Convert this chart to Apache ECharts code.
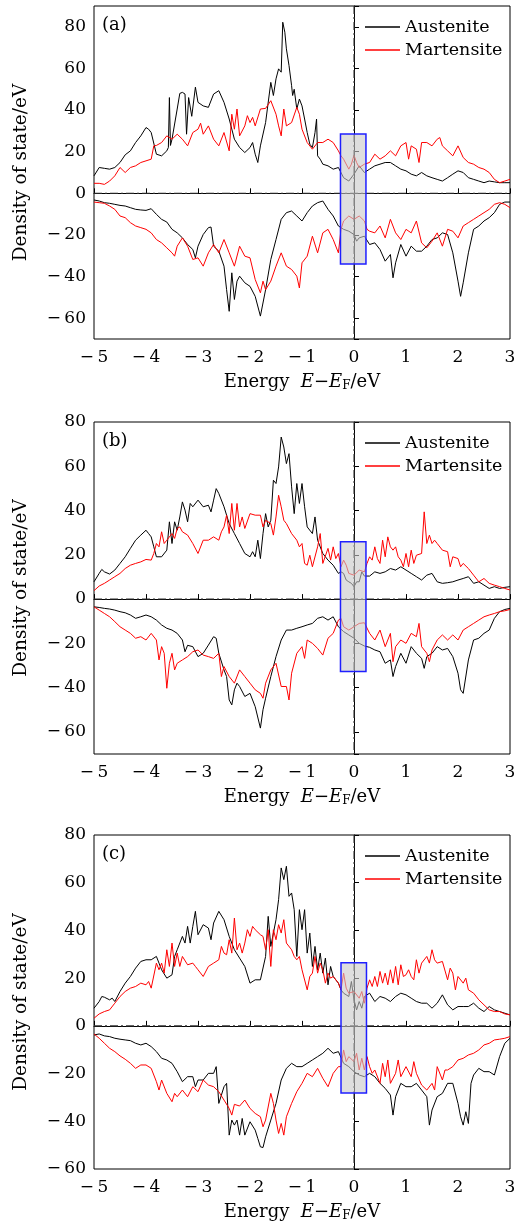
<!DOCTYPE html>
<html><head><meta charset="utf-8">
<script src="https://cdn.jsdelivr.net/npm/echarts@6/dist/echarts.min.js"></script>
<style>html,body{margin:0;padding:0;background:#fff}#c{width:522px;height:1223px}</style>
</head><body><div id="c"></div>
<script>
// ---- Data (Energy E-E_F in eV, DOS in states/eV) ----
const panelLabels = ['(a)', '(b)', '(c)'];
const seriesNames = ['Austenite', 'Martensite'];
const yMins = [-70, -70, -60];
const yMaxs = [90, 80, 80];
// highlighted window around E_F: [E0, top, E1, bottom]
const fermiBoxA = [-0.26, 28.5, 0.23, -34];
const fermiBoxB = [-0.26, 25.9, 0.23, -32.7];
const fermiBoxC = [-0.25, 26.5, 0.24, -28.1];
// reference lines: E = E_F and DOS = 0
const refLineE = 0;
const refLineDOS = 0;

// Panel (a)
const ausUpA = [[-5,8.4],[-4.9,12.4],[-4.8,12],[-4.7,11.6],[-4.6,12.4],[-4.5,14.8],[-4.4,18.5],[-4.3,20.4],[-4.2,24.4],[-4.1,27.6],[-4,31.6],[-3.95,30.8],[-3.9,29.2],[-3.8,18.8],[-3.7,18],[-3.6,20.4],[-3.57,22],[-3.55,46],[-3.53,23],[-3.5,26],[-3.4,40.5],[-3.35,48],[-3.3,48.5],[-3.25,47.7],[-3.22,28.4],[-3.18,46],[-3.12,37],[-3.05,51],[-3,43.7],[-2.9,42],[-2.8,41.3],[-2.7,47.7],[-2.6,49.3],[-2.5,43.7],[-2.4,35.7],[-2.3,26],[-2.2,22],[-2.1,19.6],[-2,22],[-1.95,24.4],[-1.9,18.8],[-1.85,14.8],[-1.8,22.8],[-1.7,34],[-1.6,53.3],[-1.55,47],[-1.5,55],[-1.45,59.8],[-1.4,58.2],[-1.37,82.2],[-1.33,77.4],[-1.3,69.4],[-1.25,61.4],[-1.2,51.7],[-1.18,47],[-1.15,50],[-1.1,40.5],[-1.05,45.3],[-1,42],[-0.95,35.7],[-0.9,29.2],[-0.85,23.6],[-0.8,22],[-0.75,29.2],[-0.72,35.7],[-0.7,18],[-0.65,16.4],[-0.6,14],[-0.5,13.2],[-0.4,11.6],[-0.3,12.4],[-0.2,7.5],[-0.1,5.9],[0,9.2],[0.1,13.2],[0.2,10],[0.3,11.6],[0.4,13.2],[0.5,14],[0.6,14.8],[0.7,14.8],[0.8,13.2],[0.9,11.6],[1,10.8],[1.1,9.2],[1.2,8.4],[1.3,10],[1.4,8.4],[1.5,7.5],[1.6,6.7],[1.7,5.9],[1.8,7.5],[1.9,9.2],[2,10.8],[2.1,10],[2.2,7.5],[2.3,6.7],[2.4,5.9],[2.5,5.1],[2.6,5.9],[2.7,5.5],[2.8,5.1],[2.9,5.1],[3,5.1]];
const marUpA = [[-5,4.8],[-4.9,4.8],[-4.8,4.3],[-4.7,5.9],[-4.6,8.4],[-4.5,12.4],[-4.4,10],[-4.3,12.4],[-4.2,13.2],[-4.1,14.8],[-4,15.6],[-3.9,16.4],[-3.85,22.8],[-3.8,23],[-3.7,24.4],[-3.6,27.6],[-3.5,26],[-3.4,28.4],[-3.3,26],[-3.2,22.8],[-3.1,29.2],[-3,30.8],[-2.95,33.7],[-2.9,28.4],[-2.8,32.4],[-2.7,26],[-2.6,22.8],[-2.5,29.2],[-2.4,20.4],[-2.35,38],[-2.3,30.8],[-2.25,40.5],[-2.2,27.6],[-2.1,32.4],[-2.05,37.3],[-2,34],[-1.95,36.5],[-1.9,32.4],[-1.8,40.5],[-1.7,40.8],[-1.6,44.5],[-1.5,38],[-1.45,32.4],[-1.4,27.6],[-1.35,40.5],[-1.3,32.4],[-1.2,34],[-1.1,41.3],[-1.05,38],[-1,30.8],[-0.9,24.4],[-0.8,21.2],[-0.7,24.4],[-0.6,24.4],[-0.5,26],[-0.4,24.4],[-0.3,20.4],[-0.25,18],[-0.2,16.4],[-0.1,11.6],[-0.05,14],[0,18.3],[0.05,14.8],[0.1,12.4],[0.2,14],[0.3,14.8],[0.4,18.8],[0.5,16.4],[0.6,18],[0.7,20.4],[0.8,18],[0.9,22.8],[1,24.4],[1.05,16.4],[1.1,22.8],[1.2,21.2],[1.25,14.8],[1.3,24.4],[1.4,24.4],[1.5,22.8],[1.6,26],[1.65,26.8],[1.7,22.8],[1.8,20.4],[1.9,18],[2,22.8],[2.1,17.2],[2.2,14.8],[2.3,14],[2.4,12.4],[2.5,11.6],[2.6,10],[2.7,6.7],[2.8,5.1],[2.9,5.9],[3,6.7]];
const ausDnA = [[-5,-3.2],[-4.9,-3.7],[-4.8,-4.5],[-4.7,-4.8],[-4.6,-5.3],[-4.5,-5.8],[-4.4,-6.1],[-4.3,-6.9],[-4.2,-7.7],[-4.1,-8],[-4,-8.2],[-3.9,-7.4],[-3.8,-10.1],[-3.7,-12.5],[-3.6,-13.8],[-3.5,-17.3],[-3.4,-19],[-3.3,-21.4],[-3.2,-24.6],[-3.1,-27],[-3.05,-31],[-3,-25.4],[-2.9,-19.8],[-2.8,-16.5],[-2.75,-16.2],[-2.7,-25.4],[-2.6,-27.8],[-2.5,-35],[-2.45,-46.3],[-2.4,-56.7],[-2.35,-38.2],[-2.3,-51],[-2.25,-42.2],[-2.2,-39.8],[-2.1,-43],[-2,-44.7],[-1.9,-49.5],[-1.8,-59],[-1.7,-46.3],[-1.6,-31.8],[-1.5,-22.2],[-1.4,-12.5],[-1.3,-9.3],[-1.2,-8.5],[-1.1,-10.9],[-1,-13.3],[-0.9,-9.3],[-0.8,-6.1],[-0.7,-4.5],[-0.6,-3.7],[-0.5,-7.7],[-0.4,-10.9],[-0.3,-15.7],[-0.2,-17.3],[-0.1,-18.2],[0,-19.8],[0.05,-23],[0.1,-21.4],[0.2,-20.6],[0.3,-24.6],[0.4,-23.8],[0.5,-27],[0.6,-32.6],[0.7,-29.4],[0.75,-40.6],[0.8,-33.4],[0.9,-24.6],[1,-30.2],[1.1,-25.4],[1.2,-27.8],[1.3,-27.8],[1.4,-25.4],[1.5,-22.2],[1.6,-21.4],[1.7,-19],[1.8,-19.8],[1.9,-28.6],[2,-42.2],[2.05,-49.5],[2.1,-43],[2.2,-28.6],[2.3,-17.3],[2.4,-15.7],[2.5,-13.3],[2.6,-11.7],[2.7,-9.3],[2.8,-5.3],[2.9,-4.2],[3,-4.2]];
const marDnA = [[-5,-4.2],[-4.9,-4.5],[-4.8,-4.8],[-4.7,-6.1],[-4.6,-7.7],[-4.5,-10.9],[-4.4,-11.7],[-4.3,-14.1],[-4.2,-15.7],[-4.1,-16.5],[-4,-17.3],[-3.9,-19],[-3.8,-22.2],[-3.7,-23.8],[-3.6,-26.2],[-3.5,-28.6],[-3.45,-30.2],[-3.4,-25.4],[-3.3,-21.4],[-3.2,-25.4],[-3.1,-31.8],[-3,-31],[-2.9,-35],[-2.8,-28.6],[-2.7,-24.6],[-2.6,-28.6],[-2.5,-22.2],[-2.4,-28.6],[-2.3,-35],[-2.2,-25.4],[-2.1,-30.2],[-2,-31],[-1.9,-41.4],[-1.8,-47.8],[-1.75,-42.2],[-1.7,-46.3],[-1.6,-42.2],[-1.5,-35],[-1.4,-28.6],[-1.3,-35],[-1.2,-36.6],[-1.1,-39.8],[-1.05,-45.5],[-1,-33.4],[-0.9,-30.2],[-0.8,-20.6],[-0.7,-28.6],[-0.6,-19],[-0.5,-17.3],[-0.4,-22.2],[-0.3,-28.6],[-0.25,-17.3],[-0.2,-13.3],[-0.1,-10.9],[0,-12.5],[0.1,-10.9],[0.2,-13.3],[0.25,-17.3],[0.3,-18.2],[0.4,-19],[0.5,-15.7],[0.6,-21.4],[0.7,-12.5],[0.8,-19],[0.9,-22.2],[1,-17.3],[1.1,-19],[1.2,-13.3],[1.3,-23.8],[1.4,-26.2],[1.5,-23],[1.6,-19],[1.7,-25.4],[1.8,-17.3],[1.9,-18.2],[2,-21.4],[2.1,-15.7],[2.2,-14.1],[2.3,-12.5],[2.4,-10.9],[2.5,-9.3],[2.6,-7.7],[2.7,-5.3],[2.8,-4.5],[2.9,-5.3],[3,-6.9]];

// Panel (b)
const ausUpB = [[-5,7.8],[-4.9,11.6],[-4.85,13.4],[-4.8,12.3],[-4.7,11.3],[-4.6,13.1],[-4.5,16.1],[-4.4,19.1],[-4.3,22.9],[-4.2,26.6],[-4.1,28.9],[-4,31.1],[-3.95,29.6],[-3.9,28.1],[-3.85,23.6],[-3.8,19.1],[-3.7,19.1],[-3.6,22.1],[-3.55,34.9],[-3.5,25.1],[-3.45,34.9],[-3.4,31.1],[-3.35,37.1],[-3.3,43.9],[-3.25,40.2],[-3.2,34.9],[-3.15,43.2],[-3.1,41.7],[-3,44.7],[-2.9,41.7],[-2.8,42.4],[-2.75,39.4],[-2.7,44.7],[-2.65,49.9],[-2.6,47.7],[-2.5,41.7],[-2.4,34.1],[-2.3,29.6],[-2.2,25.1],[-2.1,20.6],[-2,19.1],[-1.95,21.4],[-1.9,19.1],[-1.85,26.6],[-1.8,18.3],[-1.75,29.6],[-1.7,38.6],[-1.65,32.6],[-1.6,35.6],[-1.55,53.7],[-1.5,52.2],[-1.45,59.7],[-1.4,73.2],[-1.35,68.7],[-1.3,61.2],[-1.25,65.7],[-1.2,50.7],[-1.15,38.6],[-1.1,52.2],[-1.05,43.2],[-1,52.2],[-0.95,41.7],[-0.9,32.6],[-0.8,29.6],[-0.75,37.1],[-0.7,26.6],[-0.6,20.6],[-0.5,17.6],[-0.4,15.3],[-0.3,11.6],[-0.25,12.3],[-0.2,11.6],[-0.15,8.6],[-0.1,7.8],[-0.05,7.1],[0,5.6],[0.05,7.8],[0.1,7.8],[0.15,12.3],[0.2,10.4],[0.3,10.4],[0.4,12.3],[0.5,11.6],[0.6,12.3],[0.7,13.8],[0.8,13.1],[0.9,14.6],[1,13.1],[1.1,11.6],[1.2,10.1],[1.3,8.6],[1.4,10.8],[1.5,11.6],[1.6,7.8],[1.7,7.1],[1.8,7.4],[1.9,7.8],[2,8.6],[2.1,9.3],[2.2,10.1],[2.3,7.1],[2.4,7.8],[2.5,6.3],[2.6,4.8],[2.7,5.6],[2.8,4.8],[2.9,5.3],[3,5.6]];
const marUpB = [[-5,3.8],[-4.9,5.9],[-4.8,7.1],[-4.7,8.6],[-4.6,10.1],[-4.5,11.6],[-4.4,13.8],[-4.3,15.3],[-4.2,16.1],[-4.1,16.8],[-4,17.9],[-3.9,17.6],[-3.85,20.6],[-3.8,25.1],[-3.75,23.6],[-3.7,30.4],[-3.65,25.1],[-3.6,26.6],[-3.5,29.6],[-3.45,27.4],[-3.4,31.9],[-3.35,32.6],[-3.3,30.4],[-3.2,28.9],[-3.1,25.1],[-3,20.6],[-2.9,26.6],[-2.8,26.6],[-2.7,28.1],[-2.6,26.6],[-2.55,30.4],[-2.5,32.6],[-2.45,37.9],[-2.4,29.6],[-2.35,43.2],[-2.3,31.1],[-2.25,43.2],[-2.2,32.6],[-2.15,37.1],[-2.1,31.9],[-2,38.6],[-1.9,37.9],[-1.8,37.9],[-1.75,32.6],[-1.7,35.6],[-1.6,34.1],[-1.55,28.9],[-1.5,37.1],[-1.45,46.9],[-1.4,41.7],[-1.35,35.6],[-1.3,34.1],[-1.2,29.6],[-1.1,26.6],[-1.05,23.6],[-1,25.1],[-0.95,16.1],[-0.9,15.3],[-0.85,19.8],[-0.8,14.6],[-0.7,23.6],[-0.65,29.6],[-0.6,16.1],[-0.5,22.9],[-0.45,17.6],[-0.4,23.6],[-0.35,18.3],[-0.3,20.6],[-0.25,14.6],[-0.2,17.6],[-0.15,15.3],[-0.1,11.6],[0,10.8],[0.1,13.1],[0.2,12.3],[0.25,16.1],[0.3,19.1],[0.35,17.6],[0.4,23.6],[0.45,18.3],[0.5,16.1],[0.55,26.6],[0.6,19.1],[0.65,28.1],[0.7,23.6],[0.75,22.1],[0.8,23.6],[0.85,19.1],[0.9,17.6],[0.95,14.6],[1,20.6],[1.05,14.6],[1.1,22.1],[1.15,16.1],[1.2,19.8],[1.3,20.6],[1.35,39.4],[1.4,25.1],[1.45,28.9],[1.5,25.1],[1.55,26.6],[1.6,25.1],[1.7,22.1],[1.8,21.4],[1.85,14.6],[1.9,19.1],[2,18.3],[2.05,14.6],[2.1,16.1],[2.2,13.8],[2.3,10.8],[2.4,7.8],[2.5,9.3],[2.6,7.1],[2.7,6.3],[2.8,5.6],[2.9,4.8],[3,4.1]];
const ausDnB = [[-5,-3.5],[-4.9,-3.8],[-4.8,-4.2],[-4.7,-4.5],[-4.6,-5],[-4.5,-5.7],[-4.4,-6.2],[-4.3,-7.2],[-4.2,-8.7],[-4.1,-8],[-4,-7.2],[-3.9,-8],[-3.8,-9.5],[-3.7,-11.7],[-3.6,-13.2],[-3.5,-14],[-3.4,-15.5],[-3.3,-18.5],[-3.25,-23.8],[-3.2,-20.9],[-3.1,-21.5],[-3,-26],[-2.9,-24.5],[-2.8,-20.8],[-2.7,-17],[-2.65,-17.7],[-2.6,-24.5],[-2.5,-32],[-2.45,-35],[-2.4,-45.6],[-2.35,-47.8],[-2.3,-41],[-2.25,-38],[-2.2,-39.5],[-2.1,-44],[-2,-42.6],[-1.9,-48.6],[-1.8,-58.3],[-1.75,-50],[-1.7,-44.8],[-1.6,-35],[-1.5,-26],[-1.4,-18.5],[-1.3,-14],[-1.2,-14],[-1.1,-13.2],[-1,-12.5],[-0.9,-11.7],[-0.8,-11],[-0.7,-8.7],[-0.6,-8],[-0.5,-9.5],[-0.4,-8],[-0.3,-12.5],[-0.2,-14.7],[-0.1,-16.2],[0,-17.7],[0.1,-20],[0.2,-21.2],[0.3,-21.8],[0.4,-23],[0.5,-23.8],[0.6,-29],[0.7,-27.5],[0.75,-35],[0.8,-30.5],[0.9,-24.5],[1,-29],[1.1,-21.5],[1.2,-24.5],[1.3,-26.8],[1.35,-31.3],[1.4,-26],[1.5,-24.5],[1.6,-21.5],[1.7,-23],[1.8,-22.3],[1.9,-26],[2,-33.5],[2.05,-41],[2.1,-42.6],[2.2,-27.5],[2.3,-18.5],[2.4,-17.7],[2.5,-15.5],[2.6,-14],[2.7,-8.7],[2.8,-5.7],[2.9,-4.7],[3,-4.2]];
const marDnB = [[-5,-3.5],[-4.9,-5],[-4.8,-6.5],[-4.7,-8],[-4.6,-10.2],[-4.5,-12.5],[-4.4,-14],[-4.3,-15.5],[-4.2,-17.7],[-4.1,-17],[-4,-18.5],[-3.9,-15.5],[-3.8,-18.5],[-3.75,-27.5],[-3.7,-21.5],[-3.65,-24.5],[-3.6,-40.3],[-3.55,-29],[-3.5,-24.5],[-3.45,-32],[-3.4,-29],[-3.3,-27.5],[-3.2,-26],[-3.1,-23.8],[-3,-23],[-2.9,-25.3],[-2.8,-26],[-2.7,-26.8],[-2.6,-24.5],[-2.55,-35],[-2.5,-30.5],[-2.4,-35],[-2.3,-38],[-2.2,-32],[-2.1,-35],[-2,-38],[-1.9,-41],[-1.8,-42.6],[-1.75,-44.8],[-1.7,-38],[-1.6,-32],[-1.5,-29],[-1.4,-39.5],[-1.3,-39.5],[-1.25,-45.6],[-1.2,-33.5],[-1.1,-24.5],[-1,-21.5],[-0.95,-26.8],[-0.9,-18.5],[-0.8,-20],[-0.7,-22.3],[-0.6,-25.3],[-0.5,-17.7],[-0.4,-15.5],[-0.3,-9.5],[-0.25,-8.7],[-0.2,-12.5],[-0.1,-14],[0,-12.5],[0.1,-11],[0.2,-10.7],[0.3,-15.5],[0.4,-18.5],[0.5,-14],[0.6,-21.5],[0.7,-15.5],[0.75,-28.3],[0.8,-21.5],[0.9,-18.5],[1,-20],[1.1,-15.5],[1.2,-17],[1.25,-11],[1.3,-21.5],[1.4,-24.5],[1.45,-28.3],[1.5,-23],[1.6,-18.5],[1.7,-16.2],[1.8,-18.5],[1.9,-16.2],[2,-18.5],[2.1,-14],[2.2,-12.5],[2.3,-11],[2.4,-9.5],[2.5,-8],[2.6,-7.2],[2.7,-6.5],[2.8,-5.7],[2.9,-5.3],[3,-4.7]];

// Panel (c)
const ausUpC = [[-5,7.4],[-4.9,10.2],[-4.85,12.3],[-4.8,12],[-4.7,10.9],[-4.65,11.6],[-4.6,10.2],[-4.5,14.4],[-4.4,17.9],[-4.3,20.7],[-4.2,24.2],[-4.1,27],[-4,27.7],[-3.9,27.7],[-3.8,29.1],[-3.75,26.3],[-3.7,23.5],[-3.6,20],[-3.5,21.4],[-3.45,29.1],[-3.4,31.9],[-3.3,37.5],[-3.25,34.7],[-3.2,41.7],[-3.15,34.7],[-3.1,41.7],[-3.05,48],[-3,38.2],[-2.9,42.4],[-2.8,41],[-2.75,36.1],[-2.7,43.1],[-2.6,48],[-2.5,44.5],[-2.4,37.5],[-2.3,31.9],[-2.2,28.4],[-2.1,24.9],[-2,17.9],[-1.9,19.3],[-1.8,19.3],[-1.7,29.1],[-1.65,45.9],[-1.6,33.3],[-1.5,44.5],[-1.45,52.9],[-1.4,66.2],[-1.35,61.3],[-1.3,66.9],[-1.25,54.3],[-1.2,55.7],[-1.15,48.7],[-1.1,29.1],[-1.05,48.7],[-1,40.3],[-0.95,48.7],[-0.9,30.5],[-0.85,38.9],[-0.8,24.9],[-0.75,33.3],[-0.7,23.5],[-0.65,30.5],[-0.6,22.1],[-0.55,28.4],[-0.5,17.2],[-0.45,24.9],[-0.4,20.7],[-0.3,17.9],[-0.25,15.1],[-0.2,13.7],[-0.1,12.3],[-0.05,18.6],[0,10.9],[0.05,6.7],[0.1,10.2],[0.15,7.4],[0.2,12.3],[0.3,13.7],[0.4,10.2],[0.5,12.3],[0.6,11.6],[0.7,10.2],[0.8,12.3],[0.9,13.7],[1,13],[1.1,11.6],[1.2,10.2],[1.3,9.5],[1.4,9.5],[1.5,7.4],[1.6,9.5],[1.7,13],[1.8,8.8],[1.9,6.7],[2,8.1],[2.1,8.1],[2.2,8.1],[2.3,9.5],[2.4,7.4],[2.5,6],[2.6,8.1],[2.7,6.7],[2.8,6],[2.9,5.3],[3,4.6]];
const marUpC = [[-5,3.2],[-4.9,5],[-4.8,6],[-4.7,6.7],[-4.6,9.5],[-4.5,12.3],[-4.4,14.4],[-4.3,15.8],[-4.2,16.5],[-4.1,17.9],[-4,17.2],[-3.95,18.6],[-3.9,15.8],[-3.8,26.3],[-3.75,23.5],[-3.7,26.3],[-3.65,22.1],[-3.6,31.9],[-3.55,24.9],[-3.5,34.7],[-3.45,24.9],[-3.4,30.5],[-3.35,24.9],[-3.3,29.1],[-3.2,25.6],[-3.1,26.3],[-3.05,24.9],[-3,23.5],[-2.9,20.7],[-2.8,24.9],[-2.7,26.3],[-2.6,27.7],[-2.55,33.3],[-2.5,30.5],[-2.45,29.8],[-2.4,36.1],[-2.35,30.5],[-2.3,45.2],[-2.25,31.9],[-2.2,34.7],[-2.15,30.5],[-2.1,34.7],[-2.05,40.3],[-2,37.5],[-1.95,41.7],[-1.9,40.3],[-1.8,38.2],[-1.75,37.5],[-1.7,31.9],[-1.65,40.3],[-1.6,24.9],[-1.55,40.3],[-1.5,36.1],[-1.45,42.4],[-1.4,38.9],[-1.35,44.5],[-1.3,34.7],[-1.2,31.9],[-1.15,29.1],[-1.1,27.7],[-1.05,29.1],[-1,23.5],[-0.9,15.1],[-0.85,20.7],[-0.8,22.1],[-0.75,29.1],[-0.7,22.1],[-0.65,26.3],[-0.6,23.5],[-0.55,17.9],[-0.5,22.1],[-0.45,20],[-0.4,20.7],[-0.3,17.9],[-0.25,15.1],[-0.2,22.1],[-0.15,15.8],[-0.1,13.7],[0,14.4],[0.1,11.6],[0.15,14.4],[0.2,9.5],[0.25,15.8],[0.3,19.3],[0.35,16.5],[0.4,20.7],[0.45,16.5],[0.5,22.8],[0.55,17.9],[0.6,22.1],[0.65,17.2],[0.7,23.5],[0.75,17.9],[0.8,24.9],[0.85,17.2],[0.9,25.6],[0.95,20.7],[1,21.4],[1.05,23.5],[1.1,20.7],[1.15,19.3],[1.2,27.7],[1.25,22.1],[1.3,26.3],[1.4,29.1],[1.45,26.3],[1.5,31.9],[1.55,27.7],[1.6,26.3],[1.7,27],[1.8,19.3],[1.85,24.2],[1.9,22.1],[1.95,15.1],[2,20.7],[2.1,17.9],[2.15,20],[2.2,15.1],[2.3,13.7],[2.4,10.9],[2.5,8.8],[2.6,6.7],[2.7,6],[2.8,6],[2.9,5],[3,4.6]];
const ausDnC = [[-5,-3.8],[-4.9,-3.4],[-4.8,-4.2],[-4.7,-4.5],[-4.6,-5.2],[-4.5,-5.6],[-4.4,-5.9],[-4.3,-6.2],[-4.2,-7.3],[-4.1,-8],[-4,-7.3],[-3.9,-8.7],[-3.8,-10.8],[-3.7,-13.6],[-3.6,-14.3],[-3.5,-15.7],[-3.4,-19.2],[-3.3,-23.4],[-3.2,-21.3],[-3.1,-21.3],[-3.05,-25.5],[-3,-22.7],[-2.9,-22.7],[-2.8,-19.9],[-2.7,-19.9],[-2.65,-17.1],[-2.6,-32.5],[-2.5,-25.5],[-2.45,-24.1],[-2.4,-45.8],[-2.35,-39.5],[-2.3,-41.6],[-2.25,-39.5],[-2.2,-45.8],[-2.15,-38.8],[-2.1,-45.8],[-2,-40.2],[-1.9,-43.7],[-1.85,-47.2],[-1.8,-50.7],[-1.75,-51],[-1.7,-46.5],[-1.6,-39.5],[-1.5,-32.5],[-1.4,-22.7],[-1.3,-17.8],[-1.2,-15.7],[-1.1,-17.1],[-1,-17.1],[-0.9,-15.7],[-0.8,-14.3],[-0.7,-12.9],[-0.6,-11.5],[-0.5,-9.4],[-0.4,-11.5],[-0.3,-10.8],[-0.2,-15.7],[-0.1,-17.1],[0,-19.2],[0.1,-20.6],[0.2,-21.3],[0.3,-19.9],[0.4,-21.3],[0.5,-24.1],[0.6,-26.2],[0.7,-29],[0.75,-37.4],[0.8,-29.7],[0.9,-24.1],[1,-25.5],[1.1,-25.5],[1.2,-24.1],[1.3,-26.9],[1.4,-29.7],[1.45,-41.6],[1.5,-35.3],[1.6,-29.7],[1.7,-28.3],[1.8,-24.1],[1.9,-24.1],[2,-32.5],[2.05,-38.1],[2.1,-41.6],[2.15,-36],[2.2,-40.9],[2.25,-24.1],[2.3,-20.6],[2.4,-17.8],[2.5,-19.2],[2.6,-19.2],[2.7,-20.6],[2.8,-12.9],[2.9,-7.3],[3,-5.2]];
const marDnC = [[-5,-3.4],[-4.9,-5.2],[-4.8,-7.3],[-4.7,-9.4],[-4.6,-10.8],[-4.5,-12.6],[-4.4,-14],[-4.3,-15.7],[-4.2,-17.8],[-4.1,-16.4],[-4,-16.4],[-3.9,-17.8],[-3.8,-23.4],[-3.75,-26.9],[-3.7,-22.7],[-3.6,-28.3],[-3.5,-31.8],[-3.45,-28.3],[-3.4,-29.7],[-3.3,-26.9],[-3.2,-29.7],[-3.1,-25.5],[-3,-27.6],[-2.9,-22.7],[-2.8,-24.8],[-2.7,-25.5],[-2.6,-27.6],[-2.5,-31.1],[-2.4,-34.6],[-2.35,-37.4],[-2.3,-32.9],[-2.2,-33.6],[-2.1,-31.1],[-2,-34.6],[-1.9,-36.7],[-1.8,-38.1],[-1.75,-42.3],[-1.7,-39.5],[-1.6,-28.3],[-1.55,-32.5],[-1.5,-39.5],[-1.45,-45.1],[-1.4,-40.9],[-1.35,-45.8],[-1.3,-38.1],[-1.2,-32.5],[-1.1,-27.6],[-1,-24.1],[-0.9,-19.9],[-0.8,-21.3],[-0.7,-17.8],[-0.6,-22],[-0.5,-25.5],[-0.4,-19.9],[-0.3,-17.1],[-0.25,-17.1],[-0.2,-10.1],[-0.15,-15],[-0.1,-12.9],[0,-15],[0.05,-11.5],[0.1,-18.5],[0.15,-13.6],[0.2,-18.5],[0.25,-12.9],[0.3,-17.1],[0.35,-19.9],[0.4,-18.5],[0.5,-24.1],[0.55,-15.7],[0.6,-21.3],[0.65,-14.3],[0.7,-24.1],[0.8,-19.9],[0.85,-14.3],[0.9,-21.3],[1,-17.1],[1.1,-21.3],[1.15,-15],[1.2,-19.9],[1.3,-24.8],[1.4,-26.9],[1.5,-24.1],[1.55,-26.9],[1.6,-17.1],[1.7,-22.7],[1.75,-18.5],[1.8,-18.5],[1.9,-17.1],[2,-14.3],[2.1,-13.6],[2.2,-12.2],[2.3,-11.5],[2.4,-10.1],[2.5,-8],[2.6,-7.3],[2.7,-5.9],[2.8,-5.6],[2.9,-5.2],[3,-4.5]];

// ---- Build chart ----
const panels = [
  {aus: [ausUpA, ausDnA], mar: [marUpA, marDnA], box: fermiBoxA},
  {aus: [ausUpB, ausDnB], mar: [marUpB, marDnB], box: fermiBoxB},
  {aus: [ausUpC, ausDnC], mar: [marUpC, marDnC], box: fermiBoxC}
];
const gridTops = [6, 422, 835];
const gridHeights = [333, 332, 334];
const FONT = 'DejaVu Serif';
const FS = 17;
const minus = v => (v < 0 ? '\u2212\u2009' + Math.abs(v) : String(v));

const grid = [], xAxis = [], yAxis = [], series = [], legend = [], graphic = [];
panels.forEach((p, i) => {
  grid.push({left: 94, right: 12, top: gridTops[i], height: gridHeights[i], show: true, borderColor: '#000', borderWidth: 1, containLabel: false});
  xAxis.push({
    type: 'value', gridIndex: i, min: -5, max: 3, interval: 1,
    axisLine: {lineStyle: {color: '#000', width: 1}},
    axisTick: {inside: true, length: 5, lineStyle: {color: '#000'}},
    splitLine: {show: false},
    axisLabel: {color: '#000', fontFamily: FONT, fontSize: FS, margin: 10, formatter: minus},
    name: '{n|Energy  }{i|E}{n|\u2212}{i|E}{s|F}{n|/eV}',
    nameLocation: 'middle', nameGap: 33,
    nameTextStyle: {color: '#000', fontFamily: FONT, fontSize: 18,
      rich: {n: {fontFamily: FONT, fontSize: 18, color: '#000'},
             i: {fontFamily: FONT, fontSize: 18, fontStyle: 'italic', color: '#000'},
             s: {fontFamily: FONT, fontSize: 12, color: '#000', padding: [8, 0, 0, 0]}}}
  });
  yAxis.push({
    type: 'value', gridIndex: i, min: yMins[i], max: yMaxs[i], splitNumber: 8,
    axisLine: {lineStyle: {color: '#000', width: 1}},
    axisTick: {inside: true, length: 5, lineStyle: {color: '#000'}},
    splitLine: {show: false},
    axisLabel: {color: '#000', fontFamily: FONT, fontSize: FS, margin: 8,
      formatter: v => (Math.round(v) % 20 === 0 ? minus(v) : '')},
    name: 'Density of state/eV', nameLocation: 'middle', nameGap: 63,
    nameTextStyle: {color: '#000', fontFamily: FONT, fontSize: 18.5}
  });
  const mk = (name, data, color) => ({
    type: 'line', name, data, xAxisIndex: i, yAxisIndex: i, color,
    showSymbol: false, symbol: 'none', silent: true, animation: false,
    lineStyle: {color, width: 1}, z: 2
  });
  series.push(mk(seriesNames[0], p.aus[0], '#000'));
  series.push(mk(seriesNames[0], p.aus[1], '#000'));
  series.push(mk(seriesNames[1], p.mar[0], '#ff0000'));
  series.push(mk(seriesNames[1], p.mar[1], '#ff0000'));
  // reference dash-dot lines (E = E_F, DOS = 0) and the shaded window around E_F
  series.push({
    type: 'custom', xAxisIndex: i, yAxisIndex: i, z: 10, silent: true, animation: false,
    data: [p.box],
    renderItem: (params, api) => {
      const cs = params.coordSys;
      const o = api.coord([refLineE, refLineDOS]);
      const a = api.coord([api.value(0), api.value(1)]);
      const b = api.coord([api.value(2), api.value(3)]);
      const dash = {stroke: '#333', lineWidth: 1.1, lineDash: [8, 3, 2, 3], lineCap: 'butt'};
      return {type: 'group', children: [
        {type: 'line', shape: {x1: cs.x, y1: o[1], x2: cs.x + cs.width, y2: o[1]}, style: dash},
        {type: 'line', shape: {x1: o[0], y1: cs.y, x2: o[0], y2: cs.y + cs.height}, style: dash},
        {type: 'rect', shape: {x: a[0], y: a[1], width: b[0] - a[0], height: b[1] - a[1]},
          style: {fill: 'rgba(200,200,200,0.6)', stroke: '#1f1fff', lineWidth: 1.5}}
      ]};
    }
  });
  legend.push({
    data: seriesNames, orient: 'vertical', left: 360, top: gridTops[i] + 7,
    icon: 'rect', itemWidth: 35, itemHeight: 1.3, itemGap: 5,
    textStyle: {color: '#000', fontFamily: FONT, fontSize: 17.5},
    selectedMode: false
  });
  graphic.push({type: 'text', left: 102, top: gridTops[i] + 10,
    style: {text: panelLabels[i], font: '18px "' + FONT + '"', fill: '#000'}});
});

const chart = echarts.init(document.getElementById('c'), null, {renderer: 'canvas'});
chart.setOption({animation: false, backgroundColor: '#fff', grid, xAxis, yAxis, series, legend, graphic});
</script>
</body></html>
